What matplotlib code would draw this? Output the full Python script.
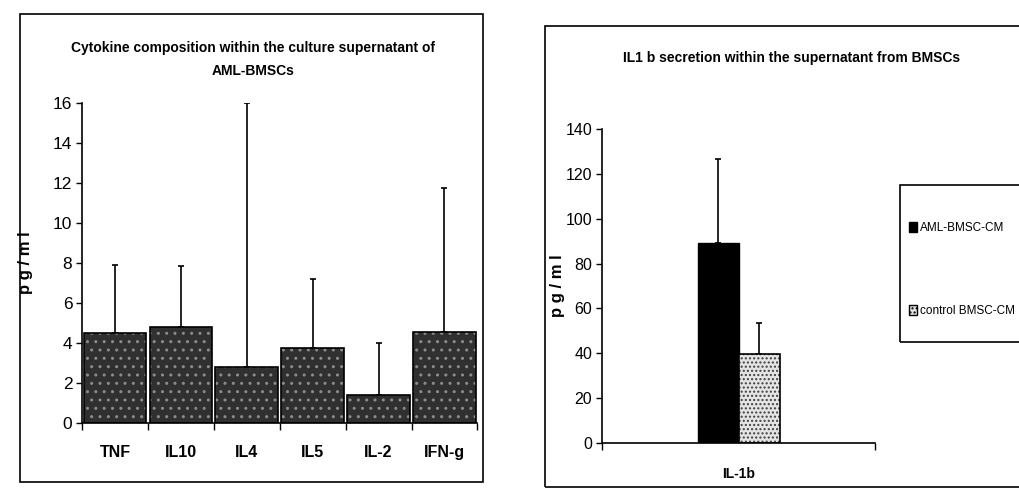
import matplotlib
matplotlib.use("Agg")
import matplotlib.pyplot as plt
from matplotlib.patches import Rectangle, Patch
import numpy as np

# ---------------- data ----------------
cytokines = ['TNF', 'IL10', 'IL4', 'IL5', 'IL-2', 'IFN-g']
cyto_mean = [4.5, 4.8, 2.8, 3.75, 1.4, 4.55]
cyto_err = [3.4, 3.05, 13.2, 3.45, 2.6, 7.2]
left_yticks = [0, 2, 4, 6, 8, 10, 12, 14, 16]

il1_groups = ['IL-1b']
aml_mean = [89.0]
aml_err = [37.5]
ctrl_mean = [39.5]
ctrl_err = [14.0]
right_yticks = [0, 20, 40, 60, 80, 100, 120, 140]
series_names = ['AML-BMSC-CM', 'control BMSC-CM']

left_title = 'Cytokine composition within the culture supernatant of\nAML-BMSCs'
right_title = 'IL1 b secretion within the supernatant from BMSCs'
ylab = 'p g / m l'

FONT = ['Liberation Sans', 'DejaVu Sans']
plt.rcParams['font.family'] = FONT
plt.rcParams['hatch.linewidth'] = 1.0

fig = plt.figure(figsize=(10.19, 4.88), dpi=100)

# panel frames
fig.patches.append(Rectangle((0.0196, 0.0123), 0.4544, 0.959, transform=fig.transFigure,
                             fill=False, edgecolor='black', linewidth=1.2))
fig.patches.append(Rectangle((0.535, 0.002), 0.48, 0.945, transform=fig.transFigure,
                             fill=False, edgecolor='black', linewidth=1.2))
# legend frame (runs off the right edge as in the scan)
fig.patches.append(Rectangle((0.883, 0.299), 0.2, 0.322, transform=fig.transFigure,
                             fill=False, edgecolor='black', linewidth=1.2))

# ---------------- left panel ----------------
ax1 = fig.add_axes([0.0805, 0.1332, 0.388, 0.656])
x = np.arange(len(cytokines))
ax1.bar(x, cyto_mean, width=0.95, color='#303030', edgecolor='none', zorder=2)
ax1.bar(x, cyto_mean, width=0.95, facecolor='none', edgecolor='#8c8c8c', hatch='..',
        linewidth=0, zorder=3)
ax1.bar(x, cyto_mean, width=0.95, facecolor='none', edgecolor='black', linewidth=1.2, zorder=4)
ax1.errorbar(x, cyto_mean, yerr=[np.zeros(len(x)), cyto_err], fmt='none', ecolor='black',
             elinewidth=1.2, capsize=2.5, capthick=1.2, zorder=1)
ax1.set_xlim(-0.5, len(x) - 0.5)
ax1.set_ylim(0, 16)
ax1.set_yticks(left_yticks)
ax1.set_xticks(x)
ax1.set_xticklabels(cytokines, fontsize=11.5, fontweight='bold')
ax1.set_xticks(np.arange(-0.5, len(x)), minor=True)
ax1.tick_params(axis='x', which='major', length=0, pad=16)
ax1.tick_params(axis='x', which='minor', length=5, direction='out', width=1)
ax1.tick_params(axis='y', labelsize=12.5, length=4, direction='out', width=1, pad=3)
for s in ['top', 'right']:
    ax1.spines[s].set_visible(False)
ax1.spines['left'].set_linewidth(1.2)
ax1.spines['bottom'].set_linewidth(1.2)
ax1.set_ylabel(ylab, fontsize=12, fontweight='bold')
ax1.yaxis.set_label_coords(-0.124, 0.5)
fig.text(0.248, 0.878, left_title, ha='center', va='center', fontsize=10,
         fontweight='bold', linespacing=1.75)

# ---------------- right panel ----------------
ax2 = fig.add_axes([0.5908, 0.0922, 0.268, 0.6434])
xg = np.arange(len(il1_groups))
w = 0.15
ax2.bar(xg - w / 2, aml_mean, width=w, color='black', edgecolor='black', zorder=2)
ax2.bar(xg + w / 2, ctrl_mean, width=w, color='#e4e4e4', edgecolor='none', zorder=2)
ax2.bar(xg + w / 2, ctrl_mean, width=w, facecolor='none', edgecolor='#404040', hatch='....',
        linewidth=0, zorder=3)
ax2.bar(xg + w / 2, ctrl_mean, width=w, facecolor='none', edgecolor='black', linewidth=1.2,
        zorder=4)
ax2.errorbar(xg - w / 2, aml_mean, yerr=[[0] * len(xg), aml_err], fmt='none', ecolor='black',
             elinewidth=1.2, capsize=2.5, capthick=1.2, zorder=1)
ax2.errorbar(xg + w / 2, ctrl_mean, yerr=[[0] * len(xg), ctrl_err], fmt='none', ecolor='black',
             elinewidth=1.2, capsize=2.5, capthick=1.2, zorder=1)
ax2.set_xlim(-0.5, 0.5)
ax2.set_ylim(0, 140)
ax2.set_yticks(right_yticks)
ax2.set_xticks(xg)
ax2.set_xticklabels(il1_groups, fontsize=10, fontweight='bold')
ax2.set_xticks([-0.5, 0.5], minor=True)
ax2.tick_params(axis='x', which='major', length=0, pad=17)
ax2.tick_params(axis='x', which='minor', length=5, direction='out', width=1)
ax2.tick_params(axis='y', labelsize=11.5, length=4, direction='out', width=1, pad=3)
for s in ['top', 'right']:
    ax2.spines[s].set_visible(False)
ax2.spines['left'].set_linewidth(1.2)
ax2.spines['bottom'].set_linewidth(1.2)
ax2.set_ylabel(ylab, fontsize=12, fontweight='bold')
ax2.yaxis.set_label_coords(-0.136, 0.5)
fig.text(0.777, 0.881, right_title, ha='center', va='center', fontsize=10, fontweight='bold')

handles = [Patch(facecolor='black', edgecolor='black'),
           Patch(facecolor='#e4e4e4', edgecolor='black', hatch='....')]
leg = fig.legend(handles, series_names, loc='upper left', bbox_to_anchor=(0.892, 0.545),
                 bbox_transform=fig.transFigure, fontsize=8.5, frameon=False,
                 labelspacing=6.0, handlelength=0.7, handleheight=0.9,
                 handletextpad=0.25, borderpad=0, borderaxespad=0)

fig.savefig('out.png', dpi=100)
